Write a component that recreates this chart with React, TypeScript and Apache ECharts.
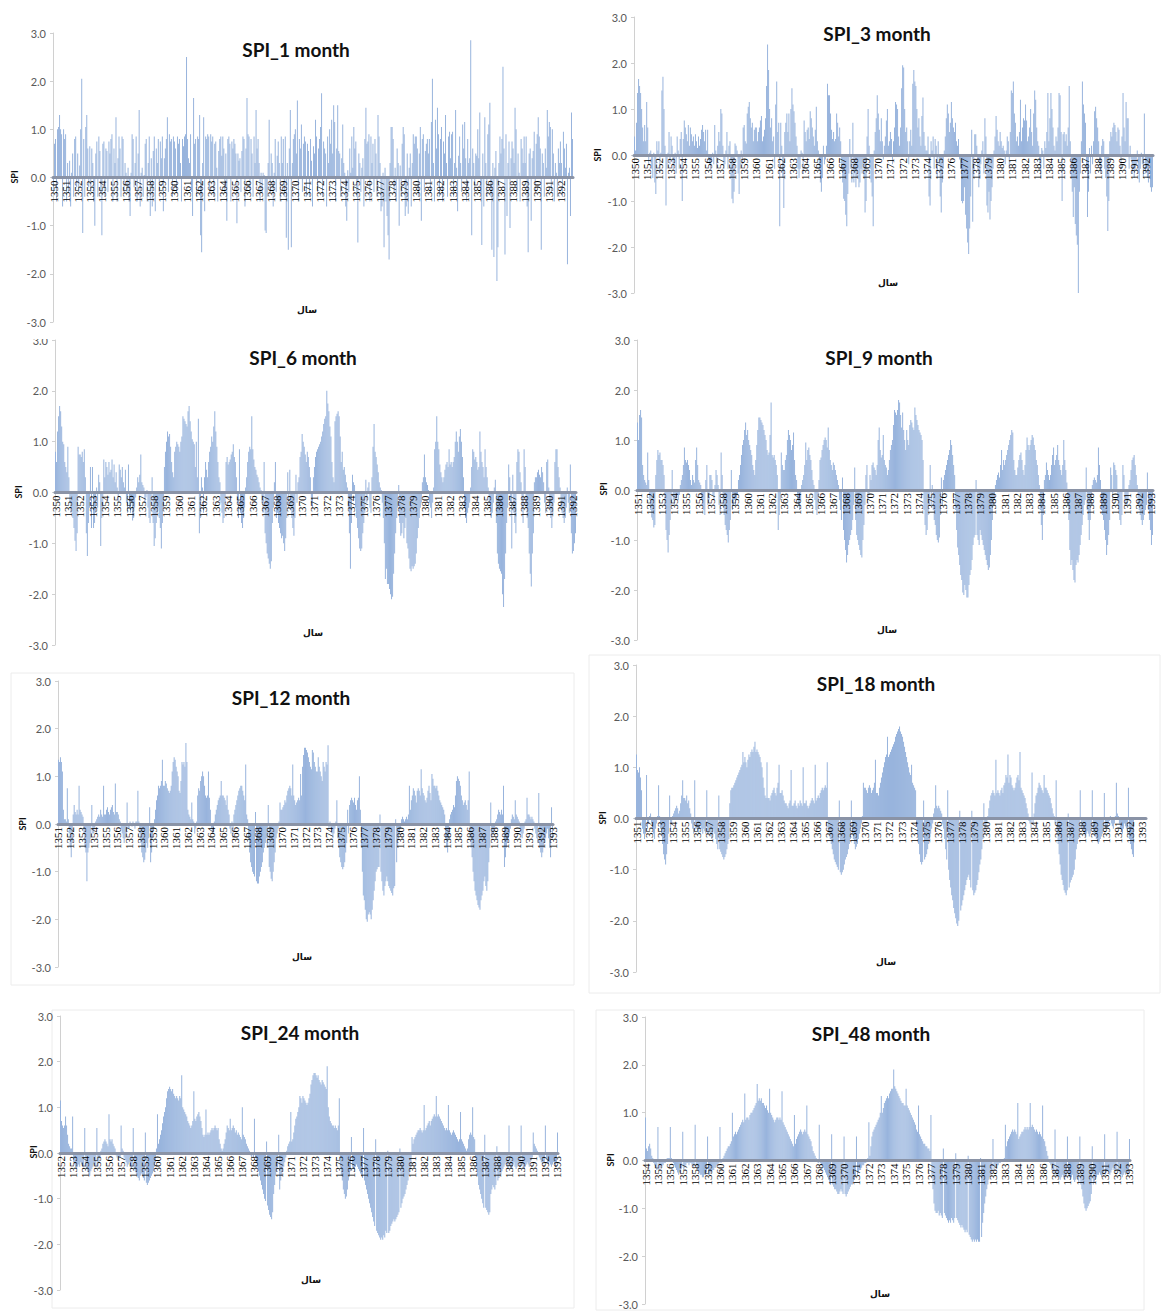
import React, { useEffect, useRef } from "react";
import * as echarts from "echarts";

// ---------- data (monthly SPI values, one row per year) ----------
const SPI_1_START = 1350;
const SPI_1: number[][] = [
  [-0.3, 0.7, 0.8, -0.5, 1.0, 1.05, 1.3, 1.0, 0.9, -0.6, 1.0, 0.8],
  [0.9, -0.5, 0.3, -0.3, 0.35, -0.6, 0.1, 0.5, -0.4, 0.8, 0.85, -0.2],
  [0.5, -0.3, 0.25, 1.0, 2.05, -1.15, 0.8, -0.4, 1.05, 1.3, 0.6, -0.2],
  [0.65, -0.3, 0.6, 0.3, -0.5, -1.0, 0.5, 0.75, -0.4, 0.85, 0.55, -0.3],
  [-1.2, 0.7, 0.75, -0.4, 0.6, 0.55, -0.3, 0.75, 0.5, 0.8, 0.9, -0.5],
  [0.6, 0.3, 1.25, -0.5, 0.4, 0.85, 0.6, -0.4, 0.85, 0.8, -0.3, 0.3],
  [0.1, -0.3, 0.2, -0.5, -0.8, 0.1, 0.9, 0.8, -0.2, 0.3, 0.85, -0.5],
  [0.5, 1.4, -0.6, 0.1, 0.2, -0.4, 0.05, 0.7, 0.8, -0.5, 0.3, 0.85],
  [-0.8, 0.4, -0.6, 0.55, 0.85, -0.7, 0.6, 0.3, 0.8, -0.3, 0.75, 0.4],
  [0.85, -0.7, 0.4, 0.6, 0.8, 1.25, -0.3, 0.9, 0.75, 0.8, -0.4, 0.85],
  [0.75, 0.6, -0.3, 0.85, 0.7, 0.8, 0.3, -0.5, 0.8, 0.65, 0.85, 0.9],
  [2.5, 0.8, 0.4, 0.3, 0.9, -0.3, -0.8, 1.65, 0.7, 0.8, -0.4, 0.85],
  [0.8, 1.3, -1.2, -1.55, 0.3, 1.25, -0.7, 0.85, 0.8, 0.9, 0.85, -0.3],
  [0.9, 0.75, 0.85, -0.4, 0.7, 0.75, 0.2, -0.5, 0.55, 0.8, 0.85, 0.45],
  [0.85, 0.6, -0.3, 0.5, -0.9, 0.8, 0.85, 0.7, -0.5, 0.75, 0.6, 0.8],
  [0.7, 0.5, -0.95, 0.5, 0.35, 0.4, -0.3, 0.55, 0.85, 0.8, -0.6, 0.6],
  [1.65, 0.9, 0.85, -0.3, 0.8, 0.5, -0.4, 0.85, 0.3, 1.4, 0.6, 0.8],
  [0.3, -0.5, 0.1, -0.3, 0.1, 0.05, -1.1, -1.15, -0.4, 0.3, 1.2, -0.3],
  [0.5, 0.3, -0.6, 0.1, 0.8, -0.3, 0.45, 0.75, 0.3, -0.5, 0.85, 0.3],
  [0.8, -0.4, 0.85, -1.25, 0.3, -1.5, 0.6, 1.4, -1.45, 0.3, 0.8, 0.9],
  [1.0, 0.5, 1.6, -0.5, 0.8, 0.6, 1.1, -0.3, 0.7, 0.85, 0.75, -0.4],
  [0.7, 0.55, -0.4, 0.8, 0.35, -0.6, 0.65, 0.5, 1.2, 0.85, -0.3, 0.6],
  [0.8, 1.05, 1.75, -0.4, 0.75, 0.6, 0.5, -0.6, 0.85, 0.3, 1.0, 0.7],
  [1.2, 0.5, 1.5, 1.15, -0.5, 0.6, 1.5, 0.55, 0.5, -0.4, 0.4, 1.1],
  [0.3, 0.1, -0.6, -0.9, 0.15, -0.3, 0.6, 0.1, 0.85, 0.2, 1.05, 0.6],
  [0.75, -0.4, -1.35, 0.5, 0.3, -0.3, 0.2, 0.4, -0.6, 0.8, 1.45, 0.7],
  [0.75, 0.9, -0.5, 0.85, 0.3, 0.7, -0.3, 0.8, 0.5, -0.4, 1.3, 0.85],
  [0.3, -0.7, -0.6, 0.1, -1.45, 0.2, -0.5, -0.8, -1.2, -1.7, 0.3, 1.05],
  [1.05, 0.8, -0.3, 0.2, -0.5, 0.6, 0.3, -1.0, 0.25, -0.4, 0.7, 1.05],
  [0.9, -0.8, -0.6, 0.5, -0.75, 0.2, 0.5, -0.6, 0.3, 0.9, 0.7, 0.85],
  [0.85, 0.6, -0.4, 0.5, 1.05, -0.9, 0.8, 0.9, -0.3, 0.55, 0.7, 0.8],
  [0.5, 0.8, -0.3, 1.15, 2.05, 0.3, -0.5, 1.2, 0.6, 1.45, 0.9, -0.4],
  [0.8, 1.05, -0.5, 0.75, 0.5, 1.3, 0.3, -0.4, 0.85, 0.95, 0.4, 0.9],
  [0.95, -0.4, 0.3, 1.4, 0.2, -0.7, 0.45, 0.85, 0.3, -0.3, 1.1, 0.6],
  [1.15, 0.4, -0.5, 0.8, 0.3, 0.4, 2.85, -1.2, 0.6, 0.3, -0.3, 0.5],
  [0.45, 1.0, 0.4, 1.35, -0.3, -1.4, 0.5, -0.6, 1.25, 0.3, -0.4, 0.9],
  [1.1, 1.55, -0.4, -1.5, 0.3, -1.65, 0.2, 0.55, -2.15, -1.45, 0.3, 0.85],
  [0.5, 0.8, 2.3, 0.6, -1.6, 0.9, -0.8, 0.3, 0.75, -1.05, 0.4, 0.75],
  [0.6, 0.3, 1.45, 1.0, -0.3, 0.5, 0.1, -0.5, 0.8, 0.6, 0.3, 0.85],
  [0.3, 0.85, -0.6, -1.55, 0.5, 0.6, -0.9, 0.4, 0.55, 0.95, -0.3, 0.7],
  [0.9, 1.25, 0.85, 0.6, -1.5, 0.5, 0.3, -0.4, 0.6, 0.2, 1.4, 0.85],
  [1.15, 1.05, -0.3, 1.0, 0.5, -0.5, 0.3, 0.1, -0.4, 0.6, 0.3, 0.75],
  [0.3, -0.4, 0.95, 0.6, 0.2, 0.7, -1.8, 0.1, 0.2, -0.8, 1.35, 0.8],
];

const SPI_3_START = 1350;
const SPI_3: number[][] = [
  [0.4, 0.1, 0.7, 1.35, 1.65, 1.5, 1.35, 1.0, 0.6, 0.3, 0.65, 0.3],
  [1.15, 0.6, -0.2, 0.05, 0.1, -0.3, -0.5, 0.05, -0.6, -0.85, 0.3, 0.1],
  [0.3, -0.4, 0.05, 1.4, 1.7, 1.0, 0.2, -1.1, -0.3, 0.05, 0.5, -0.2],
  [0.4, 0.2, -0.3, -0.2, 0.05, -0.4, 0.4, 0.1, -0.3, 0.35, 0.5, -1.0],
  [0.35, 0.75, 0.6, 0.45, 0.3, 0.65, 0.2, 0.6, 0.45, 0.3, 0.4, 0.2],
  [0.45, 0.3, 0.15, 0.4, 0.2, 0.35, 0.55, 0.65, 0.5, 0.3, 0.55, 0.1],
  [0.55, -0.1, -0.2, -0.3, -0.15, 0.05, -0.2, 0.65, 0.1, -0.3, 0.2, 0.5],
  [0.3, 1.0, 0.9, 0.2, -0.3, -0.2, 0.1, 0.5, -0.3, 0.2, 0.3, -0.5],
  [-0.95, -1.05, -0.8, 0.25, 0.2, 0.1, -0.4, -0.85, -0.3, 0.1, -0.2, 0.6],
  [0.65, 0.3, 0.25, 0.9, 1.05, 1.15, 0.8, 0.6, 0.7, 0.3, 0.55, 0.6],
  [0.6, 0.3, 0.5, 0.6, 0.75, 0.85, 0.3, 0.4, 0.55, 0.8, 1.5, 2.4],
  [1.85, 1.0, 0.6, 0.8, 0.3, 0.4, -0.3, 1.1, 1.6, 0.5, 0.7, -1.55],
  [0.7, 0.2, -0.5, -1.15, 0.5, 0.7, 0.9, 0.5, 0.9, 0.3, 1.0, 1.45],
  [1.1, 0.95, 0.7, 0.4, 0.2, -0.3, -0.5, -0.3, 0.1, 0.05, -0.4, 0.75],
  [0.5, 0.3, 0.55, 0.6, 0.35, 0.95, 0.8, 0.6, 0.4, 0.2, 0.55, 1.05],
  [0.3, 0.1, -0.3, -0.6, -0.8, -0.5, 0.2, -0.2, -0.1, 0.2, 1.55, 1.3],
  [1.3, 0.9, 0.55, 0.35, 0.5, 0.3, 0.35, 0.9, 0.7, 0.4, 0.6, 0.3],
  [-0.3, -0.6, -0.95, -1.0, -1.3, -1.55, -0.85, -0.4, 0.35, -0.3, -0.6, 0.7],
  [-0.6, -0.4, -0.7, -0.5, -0.3, -0.7, -0.6, -0.3, -0.4, -0.2, -0.5, -1.25],
  [-1.0, 0.4, 1.0, 0.2, -0.3, -0.6, -0.9, -1.55, 0.1, 0.5, 0.8, 1.3],
  [0.9, 0.55, 0.3, 0.8, 0.3, -0.1, 0.2, 0.4, 0.75, 1.0, 0.2, 0.3],
  [0.5, 0.35, -0.2, 0.3, 0.6, 1.15, 1.1, 1.0, 0.4, 0.2, 0.6, 1.45],
  [1.95, 1.9, 1.0, 0.5, 0.6, 0.3, -0.2, 0.3, 0.55, 0.2, 1.55, 1.85],
  [1.6, 1.5, 1.0, 0.6, 0.8, 0.4, 0.2, 0.85, 1.25, 0.5, 0.2, 0.1],
  [0.1, 0.4, -0.9, -1.1, 0.3, 0.1, 0.4, -0.3, 0.35, 0.2, -0.5, 0.3],
  [-0.2, -0.9, -1.25, -0.6, -0.3, 0.1, 0.4, 0.8, 1.1, 0.9, 0.5, 0.7],
  [1.15, 0.8, 0.6, 0.5, 0.7, 0.3, 0.2, 0.35, -0.1, -0.3, -1.0, -1.05],
  [-1.0, -0.7, -1.3, -1.6, -1.9, -2.15, -1.6, -0.9, 0.55, -1.45, -0.5, 0.45],
  [0.45, 0.2, -0.3, -0.7, -0.5, -0.2, 0.1, 0.3, -0.4, 0.8, 0.4, -1.1],
  [-1.25, -0.8, -1.4, -1.0, -0.7, -0.3, 0.1, 0.4, 0.85, 0.55, 0.3, 0.2],
  [0.5, 0.3, 0.15, 0.2, 0.1, -0.2, 0.1, 0.4, 0.3, -0.3, 0.5, 1.4],
  [1.35, 1.6, 0.9, 0.7, 0.3, 0.4, 0.2, 0.5, 1.2, 0.3, 0.6, 0.8],
  [0.75, 1.1, 0.75, 0.3, 0.4, 0.6, 1.0, 0.5, 0.2, 0.9, 1.4, 1.2],
  [0.6, 0.3, 0.2, -0.2, -0.5, 0.15, 0.1, -0.3, 0.3, 0.15, 0.5, 1.35],
  [0.3, 0.8, 1.35, 1.0, 0.6, 0.2, 0.1, 0.4, 0.3, 0.6, 1.35, 1.3],
  [0.5, -1.0, 0.45, 0.5, 0.3, 0.45, 0.2, 0.6, 1.5, 0.3, -0.5, -0.8],
  [-1.35, -0.7, -1.5, -1.75, -1.95, -3.0, -0.8, -0.4, 0.3, 1.6, 1.1, 0.9],
  [0.7, -0.3, -1.35, -0.8, 0.15, -0.4, 0.2, -0.2, 0.3, 0.95, 1.05, 0.8],
  [0.6, 0.3, -0.2, -0.4, 0.2, 0.35, 0.3, -0.3, -0.5, -0.9, -1.65, -1.0],
  [0.3, 0.5, 0.4, 0.6, 0.7, 0.65, 0.5, 0.3, 0.6, 0.55, 0.2, -0.3],
  [0.4, 1.35, 0.6, 0.3, 1.15, 0.8, 0.8, -0.3, 0.2, -0.1, -0.4, -0.3],
  [-0.5, -0.3, -0.2, 0.1, -0.4, -0.6, -0.3, 0.05, -0.2, -0.5, 0.9, -0.4],
  [-0.3, -0.5, -0.6, -0.2, -0.7, -0.8, -0.7],
];

const SPI_6_START = 1350;
const SPI_6: number[][] = [
  [0.8, 0.6, 1.2, 1.5, 1.7, 1.6, 1.3, 1.0, 0.95, 0.6, 0.5, 0.4],
  [0.9, 0.3, -0.2, -0.4, -0.3, -0.5, -0.7, -0.95, -1.15, -0.8, 0.9, 0.75],
  [0.75, 0.7, 0.8, 0.6, 0.85, 0.3, -0.8, -1.25, -0.6, -0.3, 0.5, -0.7],
  [0.5, -0.7, -0.6, -0.4, 0.1, -0.3, 0.35, 0.2, -1.05, -0.5, -0.3, 0.65],
  [0.3, 0.6, 0.5, 0.35, 0.6, 0.4, 0.45, 0.65, 0.3, 0.55, 0.2, 0.4],
  [0.1, -0.2, 0.55, 0.45, 0.3, 0.5, 0.2, 0.1, 0.45, -0.2, -0.4, 0.55],
  [-0.3, -0.4, -0.2, -0.55, -0.5, -0.3, -0.1, 0.1, 0.3, 0.2, 0.35, 0.75],
  [0.2, 0.15, 0.1, -0.2, -0.1, 0.05, -0.3, -0.5, -0.6, -0.2, 0.3, -0.6],
  [-1.05, -0.9, -0.6, -0.4, -0.3, -0.5, -0.7, -1.1, -0.6, -0.3, 0.5, 0.8],
  [1.0, 1.2, 1.1, 1.15, 0.9, 0.6, 0.4, 0.3, 0.8, 0.9, 1.0, 0.95],
  [0.9, 0.8, 1.0, 1.1, 1.5, 1.45, 1.4, 1.35, 1.3, 1.6, 1.7, 1.4],
  [1.2, 1.05, 1.0, 0.95, 0.5, 1.0, 0.3, 1.45, -0.8, -0.5, 0.3, 0.1],
  [-0.4, 0.3, 0.6, 0.45, 0.3, 0.6, 0.8, 0.9, 1.1, 1.0, 1.3, 1.6],
  [1.2, 0.9, 0.6, 0.3, 0.2, -0.2, -0.4, -0.6, -0.5, -0.2, 0.6, 0.7],
  [0.55, 0.6, 0.65, 0.75, 0.8, 0.95, 0.7, 0.6, 0.3, -0.2, -0.5, 0.85],
  [-0.4, -0.6, -0.7, -0.5, -0.3, 0.1, 0.3, 0.6, 0.8, 0.9, 0.85, 1.5],
  [0.85, 0.65, 0.5, 0.45, 0.35, 0.3, 0.2, 0.1, 0.05, -0.2, -0.4, 0.6],
  [-0.8, -1.0, -1.2, -1.3, -1.4, -1.5, -1.35, -0.6, -0.3, 0.2, 0.6, -0.5],
  [-0.4, -0.6, -0.7, -0.8, -0.9, -0.85, -1.0, -1.15, -0.9, -0.5, 0.4, -0.3],
  [0.45, -0.3, -0.5, -0.7, -0.85, -0.5, 0.35, -0.2, 0.2, 0.3, 0.7, 0.8],
  [1.15, 1.0, 0.9, 0.75, 0.6, 0.8, 0.7, 0.5, 0.3, -0.2, -0.3, 0.3],
  [0.5, 0.7, 0.8, 0.85, 0.9, 0.95, 1.0, 1.1, 1.2, 1.35, 1.45, 1.5],
  [2.0, 1.75, 1.6, 1.3, 1.1, 0.6, 0.3, 0.2, 1.4, 1.5, 1.55, 1.6],
  [1.5, 1.1, 0.6, 0.8, 0.45, 0.5, 0.35, 0.2, 0.1, -0.3, -0.8, -1.5],
  [-0.6, 0.35, 0.2, 0.15, -0.3, -0.5, -0.7, -0.9, -1.1, -1.15, -1.1, -0.8],
  [-0.6, -0.4, 0.25, -0.2, 0.1, 0.2, -0.3, -0.4, 0.3, 0.9, 1.35, 0.8],
  [0.7, 0.55, 0.4, 0.2, 0.1, 0.05, -0.2, -0.5, -1.0, -1.7, -1.5, -1.8],
  [-1.8, -1.9, -2.0, -2.1, -2.05, -1.6, -1.2, -0.8, -0.5, -0.3, 0.15, -0.6],
  [-0.85, -0.8, -0.6, -0.9, -0.7, -0.5, -1.0, -1.1, -1.3, -1.5, -1.55, -1.45],
  [-1.5, -1.45, -1.4, -1.2, -0.9, -0.7, -0.5, -0.3, -0.2, 0.2, 0.3, 0.75],
  [0.3, 0.2, 0.15, 0.05, -0.2, -0.3, -0.5, -0.2, 0.1, 0.85, 1.0, 1.5],
  [1.0, 0.85, 0.55, 0.4, 0.3, 0.2, 0.3, 0.45, 0.55, 0.6, 0.5, 0.85],
  [0.55, 0.6, 0.5, 0.6, 0.7, 1.0, 1.2, 1.0, 0.8, 1.1, 1.25, 1.0],
  [0.7, 0.3, -0.3, -0.5, -0.6, -0.4, -0.3, -0.2, 0.1, 0.5, 0.85, 0.8],
  [0.65, 0.7, 0.6, 0.45, 0.5, 1.2, 0.8, 0.6, 0.5, 0.3, 0.85, 0.5],
  [0.3, 0.1, -0.2, -0.3, -0.5, -0.4, -0.2, 0.1, 0.25, -0.6, -1.2, -1.4],
  [-1.5, -1.55, -1.6, -2.0, -2.25, -1.7, -1.2, -0.6, -0.3, 0.55, 0.3, -0.2],
  [-1.1, 0.35, -0.4, -0.6, -0.8, 0.6, 0.85, 0.8, 0.4, 0.2, -0.3, -0.6],
  [0.85, 0.5, -0.3, -0.5, -0.7, -1.2, -1.6, -1.85, -1.2, -0.8, 0.2, 0.3],
  [0.3, 0.4, 0.45, 0.35, 0.3, 0.5, 0.4, 0.2, -0.2, -0.4, 0.6, 0.65],
  [0.1, -0.3, -0.5, -0.7, -0.4, -0.2, 0.6, 0.85, 0.85, 0.5, 0.3, 0.1],
  [-0.3, -0.4, -0.5, -0.6, -0.5, -0.3, 0.1, -0.2, -0.4, 0.55, -0.8, -1.2],
  [-1.15, -1.0, -0.8],
];

const SPI_9_START = 1351;
const SPI_9: number[][] = [
  [1.35, 1.0, 1.5, 1.6, 1.45, 0.5, 0.3, 0.2, 0.15, 0.1, 0.75, 0.2],
  [-0.2, -0.4, -0.55, -0.6, -0.75, -0.7, 0.3, 0.6, 0.8, 0.7, 0.75, 0.6],
  [0.6, 0.5, 0.3, -0.3, -0.8, -1.0, -1.25, -0.9, -0.6, -0.3, 0.4, -0.2],
  [-0.3, -0.2, -0.15, -0.1, -0.2, -0.1, 0.1, 0.2, 0.3, 0.5, 0.85, 0.6],
  [0.55, 0.6, 0.5, 0.4, 0.2, 0.1, 0.3, 0.2, 0.15, 0.6, 0.85, 0.5],
  [0.2, 0.15, 0.1, -0.2, -0.3, -0.4, -0.5, 0.2, 0.5, -0.3, -0.2, 0.3],
  [0.3, 0.2, -0.1, -0.2, 0.1, 0.4, 0.3, 0.1, -0.3, -0.5, 0.75, 0.3],
  [-0.3, -0.5, -0.7, -0.8, -0.9, -1.05, -0.8, -0.6, 0.4, -0.4, -0.3, -0.2],
  [-0.3, -0.2, -0.1, 0.2, 0.3, 0.5, 0.7, 0.9, 1.0, 1.2, 1.35, 1.1],
  [1.2, 1.0, 0.9, 0.8, 0.7, 0.5, 0.4, 0.3, 0.6, 0.9, 1.2, 1.45],
  [1.45, 1.4, 1.35, 1.3, 1.2, 1.1, 1.0, 0.8, 0.7, 0.75, 1.1, 1.75],
  [0.7, 0.65, 0.7, 0.6, 0.5, 0.3, -0.8, -0.5, -0.2, 0.75, 0.5, 0.4],
  [0.4, 0.6, 0.7, 1.0, 1.2, 1.1, 1.0, 0.8, 0.9, 1.15, 0.6, 0.3],
  [0.2, -0.2, -0.3, -0.4, -0.2, 0.1, 0.2, 0.3, 0.5, 0.95, 0.6, 0.8],
  [0.85, 0.7, 0.6, 0.4, 0.2, 0.1, -0.2, -0.4, -0.5, -0.3, 0.2, 0.6],
  [0.65, 0.8, 0.9, 1.0, 1.05, 1.0, 0.85, 1.25, 0.8, 0.6, 0.5, 0.4],
  [0.55, 0.5, 0.4, 0.3, 0.2, 0.1, -0.2, -0.4, -0.6, 0.25, -0.8, -1.0],
  [-1.2, -1.45, -1.3, -1.1, -1.0, -0.9, -0.8, -0.6, -0.3, 0.45, -0.6, -0.9],
  [-1.0, -1.1, -1.2, -1.3, -1.35, -1.0, -0.7, -0.3, 0.3, 0.5, -0.2, -0.1],
  [0.3, 0.2, 0.5, 0.55, 0.45, 0.4, 0.3, 0.5, 1.0, 1.25, 0.8, 0.65],
  [0.7, 1.1, 0.6, 0.5, 0.45, 0.3, 0.4, 0.6, 0.8, 0.9, 1.0, 1.3],
  [1.6, 1.55, 1.5, 1.6, 1.8, 1.75, 1.5, 1.25, 1.55, 1.2, 1.0, 0.8],
  [1.2, 1.0, 0.9, 1.3, 1.4, 1.35, 1.25, 1.2, 1.65, 1.5, 1.4, 1.3],
  [1.2, 1.15, 1.1, 1.0, 0.6, -0.4, -0.7, -0.9, -0.8, -0.5, -0.3, 0.5],
  [-0.3, 0.1, -0.4, -0.6, -0.7, -0.9, -1.0, -1.05, -0.95, -0.5, 0.25, -0.3],
  [0.2, 0.3, 0.4, 0.5, 0.6, 0.7, 0.8, 1.0, 0.9, 0.7, 0.5, 0.3],
  [-0.4, -0.8, -1.15, -1.3, -1.5, -1.7, -1.8, -2.05, -2.1, -1.9, -2.0, -2.15],
  [-2.15, -1.9, -1.7, -1.6, -1.4, -1.1, -0.95, -0.9, 0.2, -0.9, -1.0, -1.1],
  [-0.8, -0.9, -1.0, -1.1, -1.2, -1.3, -1.4, -1.5, -1.6, -1.55, -1.3, -1.0],
  [-0.6, -0.3, -0.2, 0.1, 0.2, 0.3, 0.35, 0.25, 0.5, 0.8, 0.4, 0.6],
  [0.5, 0.6, 0.7, 0.8, 0.9, 1.0, 1.1, 1.2, 1.15, 0.6, 0.4, 0.3],
  [0.3, 0.45, 0.6, 0.7, 0.75, 0.6, 0.4, 0.3, 0.5, 0.8, 1.05, 0.9],
  [0.8, 0.9, 1.0, 1.1, 1.05, 0.9, 0.8, 0.6, 0.5, 0.3, 0.1, -0.4],
  [-0.7, -1.0, -0.5, 0.2, 0.3, 0.55, 0.4, 0.3, 0.2, 0.3, 0.5, 0.7],
  [0.85, 0.5, 0.6, 0.7, 0.9, 0.6, 0.5, 0.4, 0.3, 0.5, 1.0, 0.6],
  [0.4, 0.15, -0.3, -0.6, -1.2, -1.5, -1.4, -1.6, -1.8, -1.85, -1.5, -1.4],
  [-1.45, -1.3, -1.1, -0.9, -0.7, -0.5, -0.3, -0.2, 0.45, -0.4, -0.6, -1.0],
  [-0.6, -0.3, 0.1, 0.2, 0.25, 0.2, 0.15, 0.3, 0.85, 0.5, 0.2, -0.4],
  [-0.5, -0.6, -0.8, -1.0, -1.3, -1.1, -0.9, -0.6, 0.45, 0.3, -0.2, 0.55],
  [0.5, 0.4, 0.3, -0.2, -0.4, -0.6, -0.7, -0.5, 0.5, 0.3, -0.3, -0.2],
  [-0.3, -0.2, 0.1, 0.2, 0.4, 0.6, 0.65, 0.7, 0.5, 0.3, 0.1, -0.3],
  [-0.4, -0.5, -0.6, -0.7, -0.6, -0.5, -0.4, -0.3, 0.35, -0.4, -0.6, -0.8],
  [-1.1, -0.9],
];

const SPI_12_START = 1351;
const SPI_12: number[][] = [
  [1.35, 1.3, 1.4, 1.3, 1.1, 0.3, 0.1, 0.1, 0.05, 0.75, 0.1, -0.2],
  [-0.5, -0.7, -0.4, 0.2, 0.4, 0.25, 0.2, 0.3, 0.2, 0.8, 0.3, 0.25],
  [0.2, 0.15, -0.2, -0.5, -0.6, -1.2, -0.6, -0.5, -0.4, -0.3, 0.4, -0.2],
  [-0.2, -0.1, 0.05, 0.1, 0.15, 0.2, 0.15, 0.3, 0.2, 0.15, 0.8, 0.2],
  [0.2, 0.3, 0.35, 0.25, 0.2, 0.3, 0.35, 0.4, 0.25, 0.2, 0.85, 0.25],
  [0.25, 0.2, 0.1, 0.05, -0.1, -0.2, -0.3, -0.4, -0.3, -0.2, 0.45, -0.1],
  [-0.1, 0.05, 0.02, -0.05, 0.05, 0.02, -0.1, 0.05, 0.05, 0.7, 0.05, -0.2],
  [-0.4, -0.6, -0.7, -0.8, -0.75, -0.6, -0.4, -0.5, -0.3, 0.35, -0.8, -0.6],
  [-0.3, -0.1, 0.1, 0.3, 0.5, 0.6, 0.8, 0.75, 0.8, 0.9, 1.35, 0.8],
  [0.8, 0.9, 0.85, 0.75, 0.7, 0.65, 0.7, 0.8, 1.1, 1.3, 1.4, 1.35],
  [1.2, 1.1, 1.0, 0.7, 0.65, 0.9, 1.3, 1.25, 1.3, 1.2, 1.7, 1.3],
  [0.3, 0.2, 0.15, 0.1, 0.45, 0.1, 0.05, -0.2, -0.1, 0.05, 0.6, 0.75],
  [0.7, 0.9, 1.0, 1.1, 1.0, 0.8, 0.6, 0.55, 0.6, 1.1, 0.55, 0.3],
  [-0.1, -0.2, -0.15, 0.05, 0.2, 0.3, 0.4, 0.5, 0.55, 0.6, 0.9, 0.6],
  [0.6, 0.55, 0.5, 0.4, 0.6, 0.3, 0.2, -0.1, -0.2, 0.05, -0.3, 0.2],
  [0.3, 0.4, 0.5, 0.6, 0.7, 0.75, 0.8, 0.8, 0.7, 0.6, 0.5, 1.25],
  [0.2, 0.1, -0.3, -0.6, -0.8, -0.9, -1.0, -1.05, -1.1, 0.25, -1.2, -1.25],
  [-1.25, -1.1, -1.0, -0.9, -0.8, -0.6, -0.5, -0.4, -0.3, -0.5, 0.4, -0.9],
  [-1.0, -1.15, -1.2, -1.0, -0.8, -0.6, -0.3, -0.2, -0.1, 0.05, 0.45, 0.3],
  [0.3, 0.35, 0.4, 0.5, 0.45, 0.6, 0.7, 0.75, 0.8, 0.75, 0.6, 1.25],
  [0.6, 0.5, 0.4, 0.45, 0.5, 0.55, 0.5, 1.05, 0.6, 1.2, 1.45, 1.6],
  [1.6, 1.55, 1.5, 1.4, 1.3, 1.2, 1.15, 1.55, 1.5, 1.3, 1.2, 1.1],
  [1.1, 1.4, 1.2, 1.1, 1.0, 0.9, 1.3, 1.2, 1.1, 1.3, 1.25, 1.65],
  [-0.1, 0.05, -0.1, -0.2, -0.3, -0.2, -0.1, 0.05, 0.5, -0.3, -0.5, -0.7],
  [-0.8, -0.9, -0.95, -0.9, -0.8, -0.6, -0.4, 0.3, -0.2, 0.4, 0.5, 0.55],
  [0.5, 0.45, 0.55, 0.4, 0.3, 0.5, 0.55, 1.0, 0.3, -0.5, -1.0, -1.5],
  [-1.6, -1.8, -2.0, -2.05, -1.9, -1.85, -1.9, -2.0, -1.8, -1.6, -1.4, -1.2],
  [-1.0, -0.95, -0.9, -0.9, 0.2, -1.0, -1.2, -1.4, -1.5, -1.3, -1.2, -1.1],
  [-1.2, -1.3, -1.35, -1.4, -1.45, -1.5, -1.35, -1.3, 0.1, -0.8, -0.5, -0.3],
  [-0.2, -0.1, 0.1, 0.15, 0.1, 0.05, 0.1, 0.15, 0.1, 0.2, 0.8, 0.3],
  [0.5, 0.6, 0.75, 0.7, 0.6, 0.45, 0.7, 0.75, 0.7, 0.6, 1.15, 0.75],
  [0.65, 0.6, 0.5, 0.45, 0.55, 0.7, 0.8, 0.65, 0.5, 1.05, 0.95, 0.8],
  [0.8, 0.75, 0.8, 0.7, 0.6, 0.5, 0.45, 0.4, 0.35, 0.3, 0.2, -0.3],
  [-0.5, -0.6, -0.3, 0.1, 0.2, 0.25, 0.3, 0.4, 0.35, 0.6, 0.9, 1.0],
  [0.95, 0.9, 0.8, 0.6, 0.5, 0.4, 0.45, 0.5, 0.4, 0.3, 0.5, 1.1],
  [-0.3, -0.5, -0.7, -1.0, -1.2, -1.4, -1.5, -1.6, -1.7, -1.75, -1.8, -1.6],
  [-1.5, -1.4, -1.2, -1.1, -1.3, -1.4, -1.2, -0.8, -0.5, 0.45, -0.3, -0.2],
  [-0.2, -0.1, 0.05, 0.1, 0.2, 0.3, 0.25, 0.2, 0.3, 0.2, 0.8, -0.9],
  [-0.7, -0.5, -0.4, -0.3, -0.2, -0.1, 0.1, 0.2, 0.15, 0.1, 0.5, 0.2],
  [0.15, 0.1, 0.05, -0.1, -0.2, -0.3, -0.2, -0.1, 0.05, 0.1, 0.55, 0.2],
  [0.2, 0.15, 0.1, 0.15, 0.1, 0.05, -0.1, -0.2, -0.3, -0.4, 0.65, -0.5],
  [-0.6, -0.7, -0.6, -0.5, -0.4, -0.3, -0.2, -0.1, -0.3, -0.5, -0.7, 0.35],
  [-0.3],
];

const SPI_18_START = 1351;
const SPI_18_TAIL = 12; // empty months after the last value
const SPI_18: number[][] = [
  [1.25, 0.95, 0.9, 1.0, 0.8, 0.55, -0.2, -0.3, -0.4, -0.3, 0.85, -0.2],
  [-0.1, 0.05, 0.1, -0.1, -0.2, -0.3, -0.4, -0.2, -0.1, 0.05, 0.65, 0.05],
  [-0.2, -0.3, -0.5, -0.7, -0.8, -0.9, -0.7, -0.5, -0.3, 0.45, -0.2, -0.1],
  [0.05, 0.1, 0.15, 0.2, 0.25, 0.2, 0.1, 0.15, 0.3, 0.45, 0.75, 0.4],
  [0.4, 0.35, 0.45, 0.3, 0.35, 0.2, 0.1, -0.1, -0.2, -0.3, 0.75, -0.2],
  [-0.2, -0.25, -0.3, -0.2, -0.1, -0.2, -0.3, -0.2, -0.25, -0.3, 0.55, -0.3],
  [-0.3, -0.2, -0.35, -0.4, -0.3, -0.2, -0.3, -0.4, -0.5, -0.6, 0.45, -0.6],
  [-0.65, -0.7, -0.75, -0.8, -0.75, -0.7, -0.6, -0.5, -0.4, 0.3, 0.55, 0.6],
  [0.6, 0.65, 0.7, 0.75, 0.8, 0.85, 0.9, 0.95, 1.0, 1.05, 1.3, 1.1],
  [1.2, 1.1, 1.0, 1.15, 1.25, 1.2, 1.3, 1.35, 1.3, 1.4, 1.5, 1.3],
  [1.35, 1.3, 1.25, 1.2, 1.1, 1.0, 0.8, 0.6, 0.45, 0.4, 1.1, 0.4],
  [0.4, 0.35, 0.45, 0.5, 0.55, 0.6, 0.5, 0.45, 0.6, 0.7, 1.05, 0.5],
  [0.5, 0.55, 0.45, 0.35, 0.3, 0.3, 0.25, 0.2, 0.3, 0.35, 0.95, 0.25],
  [0.25, 0.3, 0.35, 0.25, 0.2, 0.3, 0.25, 0.35, 0.3, 0.25, 1.0, 0.3],
  [0.3, 0.35, 0.25, 0.2, 0.25, 0.3, 0.35, 0.4, 0.35, 0.3, 1.05, 0.35],
  [0.4, 0.45, 0.4, 0.5, 0.55, 0.6, 0.55, 0.6, 0.65, 0.6, 1.1, -0.2],
  [-0.3, -0.4, -0.5, -0.6, -0.7, -0.8, -0.85, -0.9, -0.95, -1.0, 0.35, -1.05],
  [-1.1, -1.05, -1.0, -0.9, -0.8, -0.75, -0.7, -0.6, -0.5, -0.4, 0.35, -0.3],
  [-0.4, -0.5, -0.6, -0.55, -0.5, -0.4, -0.3, -0.2, -0.1, 0.05, 0.7, 0.6],
  [0.6, 0.55, 0.5, 0.6, 0.65, 0.6, 0.5, 0.55, 0.6, 0.7, 1.15, 0.5],
  [0.5, 0.45, 0.6, 0.7, 0.8, 0.9, 1.0, 1.1, 1.2, 1.25, 1.6, 1.2],
  [1.25, 1.3, 1.35, 1.4, 1.45, 1.5, 1.6, 1.65, 1.7, 1.75, 1.8, 1.7],
  [1.65, 1.6, 1.5, 1.4, 1.3, 1.2, 1.1, 1.0, 0.9, 0.85, 1.05, 0.7],
  [0.65, 0.6, 0.55, -0.1, -0.3, -0.5, -0.7, -0.85, -0.9, -0.85, 0.35, -0.8],
  [-0.75, -0.7, -0.6, -0.5, -0.4, -0.3, -0.2, -0.1, 0.1, 0.2, 0.65, 0.25],
  [0.2, 0.25, 0.2, 0.15, 0.1, -0.1, -0.2, -0.4, -0.6, -0.8, 0.55, -1.0],
  [-1.2, -1.35, -1.5, -1.6, -1.75, -1.85, -1.95, -2.05, -2.1, -2.0, 0.15, -1.8],
  [-1.7, -1.6, -1.5, -1.4, -1.3, -1.2, -1.15, -1.1, -1.2, -1.35, 0.15, -1.4],
  [-1.5, -1.45, -1.4, -1.3, -1.2, -1.05, -0.9, -0.8, -0.6, -0.4, 0.3, -0.3],
  [-0.2, -0.1, 0.05, 0.2, 0.35, 0.45, 0.5, 0.55, 0.5, 0.45, 1.15, 0.5],
  [0.55, 0.5, 0.45, 0.55, 0.6, 0.5, 0.65, 0.7, 0.85, 0.8, 1.25, 0.7],
  [0.85, 0.8, 0.65, 0.6, 0.55, 0.6, 0.7, 0.8, 0.85, 0.75, 1.3, 0.6],
  [0.55, 0.5, 0.45, 0.4, 0.3, 0.2, 0.1, -0.05, -0.1, -0.2, 0.9, -0.1],
  [0.1, 0.3, 0.45, 0.5, 0.6, 0.7, 0.65, 0.6, 0.55, 0.5, 0.85, 0.6],
  [0.6, 0.55, 0.5, 0.45, 0.4, 0.3, 0.2, 0.1, 0.05, -0.1, 0.75, -0.3],
  [-0.5, -0.7, -0.9, -1.1, -1.2, -1.3, -1.4, -1.45, -1.5, -1.4, 0.1, -1.35],
  [-1.25, -1.2, -1.15, -1.1, -1.0, -0.8, -0.6, -0.5, -0.4, -0.3, 0.55, -0.2],
  [-0.2, -0.25, -0.3, -0.35, -0.3, -0.25, -0.3, -0.35, -0.3, -0.2, 0.55, -0.25],
  [-0.3, -0.35, -0.4, -0.45, -0.5, -0.45, -0.4, -0.35, -0.3, -0.25, 0.5, -0.2],
  [-0.2, -0.15, -0.1, -0.05, 0.05, -0.1, -0.15, -0.2, -0.1, 0.05, 0.7, 0.1],
  [0.05, -0.1, -0.2, -0.25, -0.3, -0.2, -0.1, -0.15, -0.2, -0.3, 0.6, -0.4],
  [-0.5, -0.6, -0.7, -0.75],
];

const SPI_24_START = 1352;
const SPI_24: number[][] = [
  [1.15, 0.7, 0.6, 0.55, 0.6, 0.8, 0.6, 0.4, 0.2, 0.15, 0.1, 0.1],
  [0.8, -0.2, -0.25, -0.3, -0.35, -0.3, -0.25, -0.3, -0.2, -0.25, -0.3, -0.3],
  [0.55, -0.3, -0.35, -0.4, -0.45, -0.5, -0.4, -0.35, -0.3, -0.25, -0.2, -0.3],
  [0.55, -0.3, -0.2, -0.1, 0.05, 0.1, 0.2, 0.25, 0.3, 0.25, 0.2, 0.15],
  [0.85, 0.3, 0.25, 0.3, 0.2, 0.15, 0.1, -0.05, -0.1, -0.15, -0.1, -0.1],
  [0.6, 0.1, 0.05, -0.1, -0.15, -0.2, -0.3, -0.25, -0.2, -0.3, -0.35, -0.3],
  [0.55, -0.35, -0.4, -0.45, -0.5, -0.55, -0.6, -0.5, -0.45, -0.5, -0.55, -0.6],
  [0.45, -0.65, -0.7, -0.65, -0.6, -0.55, -0.5, -0.45, -0.4, -0.3, -0.2, 0.1],
  [0.85, 0.2, 0.3, 0.4, 0.5, 0.65, 0.8, 0.9, 1.0, 1.2, 1.35, 1.4],
  [1.45, 1.4, 1.35, 1.4, 1.3, 1.25, 1.2, 1.25, 1.2, 1.15, 1.25, 1.2],
  [1.7, 1.0, 0.95, 0.9, 0.85, 0.8, 0.7, 0.65, 0.6, 0.55, 0.6, 0.7],
  [1.35, 0.75, 0.7, 0.8, 0.85, 0.9, 0.8, 0.7, 0.55, 0.4, 0.35, 0.4],
  [0.95, 0.4, 0.45, 0.4, 0.45, 0.5, 0.55, 0.5, 0.55, 0.6, 0.55, 0.5],
  [0.55, 0.3, 0.2, 0.1, 0.05, 0.1, 0.2, 0.3, 0.45, 0.6, 0.55, 0.5],
  [0.75, 0.5, 0.55, 0.6, 0.55, 0.45, 0.5, 0.4, 0.45, 0.4, 0.35, 0.3],
  [1.0, 0.4, 0.35, 0.3, 0.2, 0.15, 0.1, 0.05, -0.05, -0.1, -0.05, -0.1],
  [0.75, -0.1, -0.2, -0.3, -0.4, -0.5, -0.6, -0.7, -0.8, -0.9, -1.0, -1.05],
  [0.25, -1.15, -1.25, -1.35, -1.4, -1.45, -1.3, -0.9, -0.7, -0.5, -0.4, -0.3],
  [0.4, -0.8, -0.6, -0.5, -0.4, -0.3, -0.2, -0.1, 0.05, 0.15, 0.2, 0.25],
  [0.9, 0.25, 0.3, 0.45, 0.6, 0.75, 0.8, 0.9, 1.0, 1.25, 1.2, 1.1],
  [1.25, 1.2, 1.15, 1.1, 1.05, 1.1, 1.2, 1.3, 1.5, 1.6, 1.7, 1.75],
  [1.75, 1.7, 1.65, 1.7, 1.6, 1.55, 1.5, 1.6, 1.55, 1.5, 1.45, 1.4],
  [1.9, 1.0, 0.8, 0.7, 0.65, 0.6, 0.6, 0.55, 0.6, 0.55, 0.5, 0.6],
  [1.2, -0.3, -0.5, -0.6, -0.8, -0.9, -1.0, -0.95, -0.8, -0.6, -0.5, -0.4],
  [0.35, -0.3, -0.35, -0.4, -0.3, -0.25, -0.3, -0.35, -0.4, -0.45, -0.5, -0.55],
  [0.55, -0.6, -0.7, -0.8, -0.9, -1.0, -1.1, -1.2, -1.3, -1.4, -1.5, -1.6],
  [0.3, -1.7, -1.75, -1.8, -1.85, -1.9, -1.85, -1.9, -1.8, -1.85, -1.7, -1.75],
  [0.05, -1.75, -1.7, -1.6, -1.55, -1.5, -1.45, -1.5, -1.45, -1.4, -1.35, -1.3],
  [0.1, -1.2, -1.1, -1.0, -0.95, -0.9, -0.8, -0.7, -0.6, -0.5, -0.4, -0.3],
  [0.35, 0.2, 0.3, 0.35, 0.4, 0.45, 0.5, 0.5, 0.55, 0.5, 0.45, 0.5],
  [1.05, 0.5, 0.55, 0.6, 0.65, 0.7, 0.6, 0.7, 0.75, 0.8, 0.85, 0.8],
  [1.25, 0.8, 0.85, 0.8, 0.75, 0.7, 0.65, 0.6, 0.55, 0.5, 0.55, 0.5],
  [1.05, 0.5, 0.45, 0.4, 0.45, 0.5, 0.45, 0.4, 0.35, 0.3, 0.25, 0.3],
  [0.9, 0.3, 0.25, 0.2, 0.15, 0.1, 0.05, 0.1, 0.3, 0.4, 0.45, 0.4],
  [1.0, 0.35, 0.3, -0.1, -0.3, -0.5, -0.7, -0.8, -0.9, -1.0, -1.1, -1.2],
  [0.4, -1.2, -1.25, -1.3, -1.35, -1.3, -0.9, -0.8, -0.7, -0.75, -0.8, -0.7],
  [0.15, -0.6, -0.55, -0.5, -0.45, -0.4, -0.35, -0.3, -0.25, -0.2, -0.3, -0.35],
  [0.6, -0.3, -0.35, -0.3, -0.25, -0.2, -0.3, -0.35, -0.3, -0.25, -0.2, -0.3],
  [0.6, -0.25, -0.3, -0.35, -0.3, -0.25, -0.2, -0.25, -0.3, -0.2, -0.15, -0.1],
  [0.45, 0.2, 0.15, 0.1, 0.05, -0.05, -0.1, -0.15, -0.2, -0.25, -0.2, -0.2],
  [0.6, -0.15, -0.2, -0.25, -0.2, -0.25, -0.3, -0.25, -0.2, -0.25, -0.3, -0.2],
  [0.45],
];

const SPI_48_START = 1354;
const SPI_48: number[][] = [
  [0.9, 0.25, 0.2, 0.3, 0.35, 0.25, 0.1, 0.05, -0.05, -0.1, -0.15, -0.2],
  [0.7, -0.2, -0.15, -0.15, -0.1, -0.1, -0.05, -0.05, 0.02, 0.05, 0.05, 0.05],
  [0.7, 0.05, 0.02, -0.05, -0.1, -0.15, -0.2, -0.25, -0.3, -0.25, -0.2, -0.15],
  [0.6, -0.2, -0.15, -0.1, -0.05, -0.05, -0.1, -0.05, -0.05, -0.1, -0.15, -0.1],
  [0.75, -0.1, -0.15, -0.2, -0.25, -0.3, -0.3, -0.35, -0.35, -0.3, -0.3, -0.25],
  [0.5, -0.3, -0.3, -0.25, -0.25, -0.2, -0.2, -0.15, -0.15, -0.1, -0.1, -0.05],
  [0.7, -0.05, 0.02, 0.05, 0.1, 0.15, 0.2, 0.25, 0.3, 0.3, 0.35, 0.4],
  [1.0, 0.5, 0.55, 0.6, 0.55, 0.6, 0.65, 0.7, 0.75, 0.8, 0.85, 0.8],
  [1.4, 0.85, 0.9, 0.9, 0.85, 0.95, 1.0, 1.0, 1.05, 1.1, 1.15, 1.2],
  [1.6, 1.25, 1.3, 1.25, 1.3, 1.2, 1.2, 1.15, 1.1, 1.15, 1.05, 1.0],
  [1.5, 1.0, 0.95, 0.9, 0.85, 0.8, 0.85, 0.9, 0.9, 0.85, 0.9, 0.85],
  [1.45, 0.8, 0.75, 0.7, 0.65, 0.6, 0.55, 0.5, 0.45, 0.4, 0.35, 0.3],
  [0.95, 0.35, 0.45, 0.5, 0.55, 0.6, 0.65, 0.6, 0.55, 0.6, 0.65, 0.6],
  [1.15, 0.55, 0.5, 0.45, 0.4, 0.3, 0.2, 0.15, 0.1, 0.05, 0.02, -0.05],
  [0.75, -0.05, -0.1, -0.1, -0.15, -0.2, -0.25, -0.3, -0.35, -0.4, -0.45, -0.5],
  [0.55, -0.5, -0.55, -0.6, -0.6, -0.65, -0.7, -0.7, -0.65, -0.6, -0.65, -0.7],
  [0.5, -0.7, -0.75, -0.7, -0.65, -0.6, -0.55, -0.5, -0.5, -0.45, -0.4, -0.35],
  [0.5, -0.3, -0.25, -0.2, -0.2, -0.15, -0.1, -0.1, -0.05, -0.05, 0.02, 0.05],
  [0.8, 0.1, 0.3, 0.5, 0.6, 0.65, 0.7, 0.75, 0.8, 0.85, 0.9, 1.0],
  [1.35, 1.0, 1.1, 1.2, 1.25, 1.3, 1.35, 1.3, 1.4, 1.45, 1.5, 1.5],
  [1.9, 1.55, 1.5, 1.45, 1.4, 1.35, 1.3, 1.25, 1.2, 1.2, 1.15, 1.15],
  [1.5, 1.15, 1.1, 1.05, 1.0, 0.95, 0.9, 0.85, 0.8, 0.75, 0.65, 0.6],
  [1.15, 0.55, 0.5, 0.45, 0.4, 0.35, 0.35, 0.3, 0.3, 0.25, 0.25, 0.2],
  [0.95, -0.3, -0.6, -0.9, -1.05, -1.1, -1.1, -1.05, -1.15, -1.1, -1.15, -1.2],
  [0.25, -1.1, -1.15, -1.2, -1.25, -1.3, -1.25, -1.3, -1.2, -1.25, -1.3, -1.2],
  [0.15, -1.2, -1.25, -1.3, -1.35, -1.4, -1.35, -1.4, -1.45, -1.5, -1.45, -1.5],
  [0.1, -1.55, -1.6, -1.65, -1.7, -1.65, -1.7, -1.65, -1.7, -1.65, -1.7, -1.7],
  [0.05, -1.6, -1.3, -1.1, -0.9, -0.75, -0.6, -0.5, -0.4, -0.35, -0.3, -0.25],
  [0.45, -0.2, -0.15, -0.15, -0.1, -0.1, -0.05, -0.05, 0.02, 0.02, 0.03, 0.05],
  [0.75, 0.3, 0.4, 0.45, 0.5, 0.55, 0.6, 0.65, 0.6, 0.65, 0.6, 0.55],
  [1.2, 0.45, 0.5, 0.55, 0.6, 0.6, 0.65, 0.7, 0.65, 0.7, 0.65, 0.7],
  [1.2, 0.7, 0.75, 0.7, 0.65, 0.6, 0.65, 0.6, 0.55, 0.6, 0.55, 0.5],
  [1.15, 0.45, 0.4, 0.3, 0.2, 0.1, 0.02, -0.05, -0.1, -0.2, -0.25, -0.3],
  [0.65, -0.3, -0.35, -0.3, -0.35, -0.4, -0.35, -0.3, -0.35, -0.4, -0.35, -0.3],
  [0.5, -0.3, -0.35, -0.4, -0.35, -0.3, -0.4, -0.45, -0.4, -0.35, -0.4, -0.45],
  [0.5, -0.5, -0.6, -0.75, -0.9, -1.0, -1.05, -1.0, -0.95, -0.9, -0.85, -0.7],
  [0.3, -0.5, -0.45, -0.4, -0.35, -0.3, -0.3, -0.25, -0.3, -0.35, -0.3, -0.25],
  [0.55, -0.3, -0.25, -0.2, -0.25, -0.3, -0.25, -0.2, -0.15, -0.2, -0.25, -0.2],
  [0.6, -0.2, -0.25, -0.3, -0.3, -0.35, -0.3, -0.25, -0.3, -0.25, -0.3, -0.25],
  [0.45],
];

const Y_TICKS = [-3, -2, -1, 0, 1, 2, 3];
const X_NAME = "سال";
const Y_NAME = "SPI";

// ---------- layout ----------
type Panel = {
  title: string;
  start: number;
  rows: number[][];
  tail: number;
  left: number;
  top: number;
  width: number;
  height: number;
  tx: number;
  ty: number;
  sx: number;
  sy: number;
  nx: number;
  ny: number;
};

const PANELS: Panel[] = [
  { title: "SPI_1 month", start: SPI_1_START, rows: SPI_1, tail: 0, left: 53, top: 33, width: 520, height: 289, tx: 296, ty: 49, sx: 14, sy: 177, nx: 307, ny: 310 },
  { title: "SPI_3 month", start: SPI_3_START, rows: SPI_3, tail: 0, left: 634, top: 17, width: 519, height: 276, tx: 877, ty: 33, sx: 597, sy: 155, nx: 888, ny: 283 },
  { title: "SPI_6 month", start: SPI_6_START, rows: SPI_6, tail: 0, left: 55, top: 340, width: 521, height: 305, tx: 303, ty: 357, sx: 18, sy: 492, nx: 313, ny: 633 },
  { title: "SPI_9 month", start: SPI_9_START, rows: SPI_9, tail: 0, left: 637, top: 340, width: 516, height: 300, tx: 879, ty: 357, sx: 603, sy: 489, nx: 887, ny: 630 },
  { title: "SPI_12 month", start: SPI_12_START, rows: SPI_12, tail: 0, left: 58, top: 681, width: 495, height: 286, tx: 291, ty: 697, sx: 22, sy: 824, nx: 302, ny: 957 },
  { title: "SPI_18 month", start: SPI_18_START, rows: SPI_18, tail: SPI_18_TAIL, left: 636, top: 665, width: 510, height: 307, tx: 876, ty: 683, sx: 602, sy: 818, nx: 886, ny: 962 },
  { title: "SPI_24 month", start: SPI_24_START, rows: SPI_24, tail: 0, left: 60, top: 1016, width: 498, height: 274, tx: 300, ty: 1032, sx: 33, sy: 1152, nx: 311, ny: 1280 },
  { title: "SPI_48 month", start: SPI_48_START, rows: SPI_48, tail: 0, left: 645, top: 1017, width: 485, height: 287, tx: 871, ty: 1033, sx: 610, sy: 1160, nx: 880, ny: 1294 },
];

const FRAMES = [
  { x: 11, y: 673, w: 563, h: 312 },
  { x: 589, y: 655, w: 571, h: 338 },
  { x: 52, y: 1010, w: 522, h: 298 },
  { x: 596, y: 1010, w: 548, h: 300 },
];

const BAR_COLOR = "#98b4dd";

export default function App() {
  const ref = useRef<HTMLDivElement>(null);

  useEffect(() => {
    if (!ref.current) return;
    const chart = echarts.init(ref.current, null, { renderer: "svg" });

    const grids: any[] = [];
    const xAxes: any[] = [];
    const yAxes: any[] = [];
    const series: any[] = [];
    const graphics: any[] = [];

    FRAMES.forEach((f) => {
      graphics.push({
        type: "rect",
        shape: { x: f.x, y: f.y, width: f.w, height: f.h },
        style: { fill: "none", stroke: "#ececec", lineWidth: 1 },
        z: -10,
        silent: true,
      });
    });

    PANELS.forEach((p, i) => {
      const values: (number | null)[] = ([] as (number | null)[]).concat(...p.rows);
      for (let k = 0; k < p.tail; k++) values.push(null);
      const cats = values.map((_, k) => `${p.start + Math.floor(k / 12)}-${k % 12}`);

      grids.push({ left: p.left, top: p.top, width: p.width, height: p.height, containLabel: false });
      xAxes.push({
        type: "category",
        gridIndex: i,
        position: "bottom",
        // the axis sits on the zero line, half way up the symmetric -3..3 range
        offset: -p.height / 2,
        data: cats,
        boundaryGap: true,
        axisLine: { onZero: false, lineStyle: { color: "#8a93a6", width: 3 } },
        axisTick: { show: false },
        axisLabel: {
          interval: 11,
          rotate: 90,
          margin: 3,
          fontFamily: "Liberation Serif",
          fontSize: 11,
          color: "#000",
          formatter: (v: string) => v.split("-")[0],
        },
        splitLine: { show: false },
        z: 5,
      });
      yAxes.push({
        type: "value",
        gridIndex: i,
        min: Y_TICKS[0],
        max: Y_TICKS[Y_TICKS.length - 1],
        interval: 1,
        axisLine: { show: true, lineStyle: { color: "#d0d0d0", width: 1 } },
        axisTick: { show: true, length: 3, lineStyle: { color: "#d0d0d0" } },
        axisLabel: {
          fontFamily: "Lato",
          fontSize: 11,
          color: "#595959",
          margin: 7,
          formatter: (v: number) => v.toFixed(1),
        },
        splitLine: { show: false },
      });
      series.push({
        type: "bar",
        xAxisIndex: i,
        yAxisIndex: i,
        data: values,
        barCategoryGap: "25%",
        itemStyle: { color: BAR_COLOR },
        silent: true,
      });

      graphics.push({
        type: "text",
        x: p.tx,
        y: p.ty,
        style: {
          text: p.title,
          fontFamily: "Lato",
          fontWeight: "bold",
          fontSize: 19,
          fill: "#111",
          textAlign: "center",
          textVerticalAlign: "middle",
        },
        z: 10,
      });
      graphics.push({
        type: "text",
        x: p.sx,
        y: p.sy,
        rotation: Math.PI / 2,
        style: {
          text: Y_NAME,
          fontFamily: "Lato",
          fontWeight: "bold",
          fontSize: 9,
          fill: "#111",
          textAlign: "center",
          textVerticalAlign: "middle",
        },
        z: 10,
      });
      graphics.push({
        type: "text",
        x: p.nx,
        y: p.ny,
        style: {
          text: X_NAME,
          fontFamily: "DejaVu Sans",
          fontWeight: "bold",
          fontSize: 9,
          fill: "#111",
          textAlign: "center",
          textVerticalAlign: "middle",
        },
        z: 10,
      });
    });

    // the top of the SPI_6 panel is clipped in the original
    graphics.push({
      type: "rect",
      shape: { x: 0, y: 329, width: 52, height: 10 },
      style: { fill: "#ffffff" },
      z: 100,
      silent: true,
    });

    chart.setOption({
      animation: false,
      backgroundColor: "#ffffff",
      grid: grids,
      xAxis: xAxes,
      yAxis: yAxes,
      series,
      graphic: { elements: graphics },
    });

    return () => chart.dispose();
  }, []);

  return (
    <div
      ref={ref}
      style={{ position: "absolute", left: 0, top: 0, width: 1161, height: 1311, background: "#fff" }}
    />
  );
}
